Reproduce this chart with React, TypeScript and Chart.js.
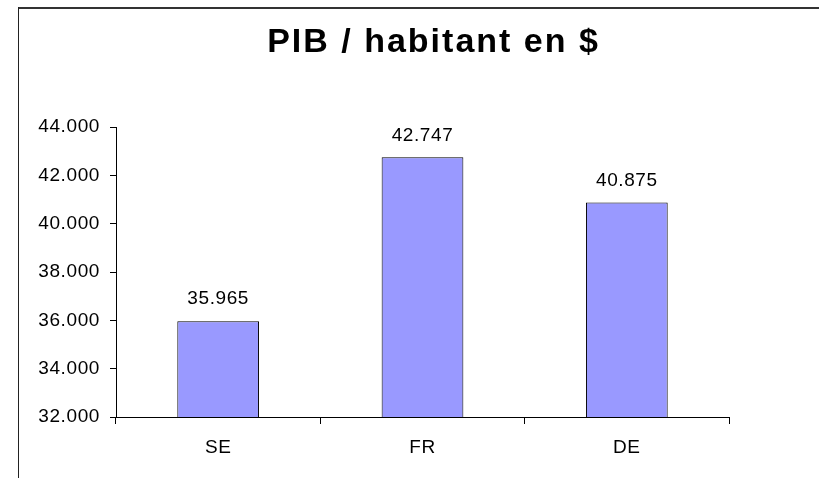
import React, { useEffect, useRef } from 'react';
import { Chart, registerables } from 'chart.js';

Chart.register(...registerables);

const titleText = 'PIB / habitant en $';
const categories = ['SE', 'FR', 'DE'];
const values = [35965, 42747, 40875];
const yTicks = [32000, 34000, 36000, 38000, 40000, 42000, 44000];

const FONT = '"Liberation Sans", Arial, sans-serif';
const fmt = (v: number) => String(Math.round(v)).replace(/\B(?=(\d{3})+(?!\d))/g, '.');

const CANVAS_W = 867;
const CANVAS_H = 478;

const spacingPlugin = {
  id: 'spacing',
  beforeDraw(chart: any) {
    const ctx = chart.ctx;
    ctx.save();
    ctx.fillStyle = '#333333';
    ctx.fillRect(18, 7, chart.width - 18, 2);
    ctx.fillStyle = '#222222';
    ctx.fillRect(18, 7, 1, chart.height - 7);
    ctx.restore();
    ctx.letterSpacing = '2px';
  },
  beforeDatasetsDraw(chart: any) {
    chart.ctx.letterSpacing = '0.6px';
  },
  afterDatasetsDraw(chart: any) {
    const ctx = chart.ctx;
    const meta = chart.getDatasetMeta(0);
    ctx.save();
    ctx.font = `19px ${FONT}`;
    ctx.fillStyle = '#000000';
    ctx.textAlign = 'center';
    ctx.textBaseline = 'middle';
    meta.data.forEach((bar: any, i: number) => {
      ctx.fillText(fmt(values[i]), bar.x, bar.y - 22);
    });
    ctx.restore();
  },
  afterDraw(chart: any) {
    chart.ctx.letterSpacing = '0px';
  },
};

export default function App() {
  const ref = useRef<HTMLCanvasElement | null>(null);

  useEffect(() => {
    if (!ref.current) return;
    const chart = new Chart(ref.current, {
      type: 'bar',
      data: {
        labels: categories,
        datasets: [
          {
            data: values,
            backgroundColor: '#9999FF',
            borderColor: '#000000',
            borderWidth: 1,
            barPercentage: 0.4,
            categoryPercentage: 1,
          },
        ],
      },
      options: {
        responsive: false,
        animation: false,
        devicePixelRatio: 1,
        layout: { padding: { left: 0, right: 0, top: 0, bottom: 0 } },
        plugins: {
          legend: { display: false },
          tooltip: { enabled: false },
          title: {
            display: true,
            text: titleText,
            color: '#000000',
            font: { family: FONT, size: 34, weight: 'bold', lineHeight: 1.2 },
            padding: { top: 22.6, bottom: 63.6 },
          },
        },
        scales: {
          x: {
            type: 'category',
            offset: true,
            grid: { offset: true, drawOnChartArea: false, tickLength: 7, color: '#000000', lineWidth: 1 },
            border: { color: '#000000', width: 1 },
            ticks: { color: '#000000', font: { family: FONT, size: 19 }, padding: 12, z: 1, maxRotation: 0 },
            afterFit: (s: any) => { s.height = 61; },
          },
          y: {
            type: 'linear',
            min: yTicks[0],
            max: yTicks[yTicks.length - 1],
            afterBuildTicks: (s: any) => { s.ticks = yTicks.map((v) => ({ value: v })); },
            grid: { drawOnChartArea: false, tickLength: 6, color: '#000000', lineWidth: 1 },
            border: { color: '#000000', width: 1 },
            ticks: {
              color: '#000000',
              font: { family: FONT, size: 19 },
              padding: 10,
              z: 1,
              callback: (v: any) => fmt(Number(v)),
            },
            afterFit: (s: any) => { s.width = 116; },
          },
          yR: {
            type: 'linear',
            position: 'right',
            display: true,
            grid: { display: false },
            border: { display: false },
            ticks: { display: false },
            afterFit: (s: any) => { s.width = 138; },
          },
        },
      },
      plugins: [spacingPlugin],
    });
    return () => chart.destroy();
  }, []);

  return (
    <div style={{ position: 'absolute', left: 0, top: 0, width: 819, height: 478, overflow: 'hidden', background: '#ffffff' }}>
      <canvas ref={ref} width={CANVAS_W} height={CANVAS_H} style={{ display: 'block' }} />
    </div>
  );
}
